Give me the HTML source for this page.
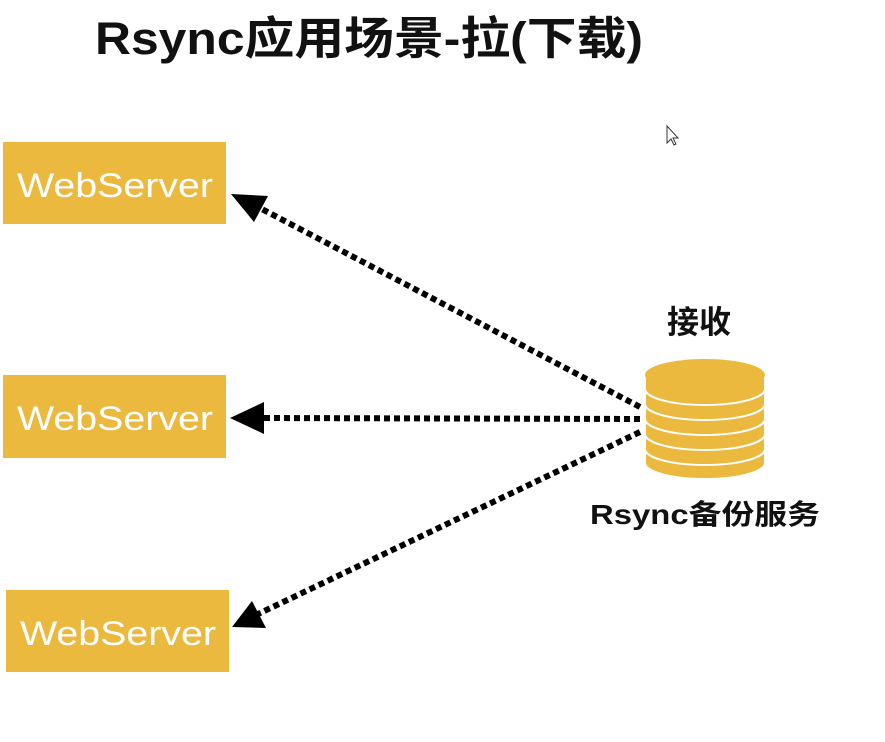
<!DOCTYPE html>
<html><head><meta charset="utf-8"><style>
html,body{margin:0;padding:0;background:#fff;width:885px;height:742px;overflow:hidden}
svg{display:block}
text{font-family:"Liberation Sans","Noto Sans CJK SC",sans-serif;font-weight:bold}
</style></head><body>
<svg width="885" height="742" viewBox="0 0 885 742" xmlns="http://www.w3.org/2000/svg">
<text x="95" y="54" font-size="45" fill="#111" textLength="548" lengthAdjust="spacingAndGlyphs">Rsync应用场景-拉(下载)</text>
<g fill="#ecb93f">
<rect x="3" y="142" width="223" height="82"/>
<rect x="3" y="375" width="223" height="83"/>
<rect x="6" y="590" width="223" height="82"/>
</g>
<g fill="#fff" font-size="34">
<text x="17" y="197" style="font-weight:normal" textLength="196" lengthAdjust="spacingAndGlyphs">WebServer</text>
<text x="17" y="430" style="font-weight:normal" textLength="196" lengthAdjust="spacingAndGlyphs">WebServer</text>
<text x="20" y="645" style="font-weight:normal" textLength="196" lengthAdjust="spacingAndGlyphs">WebServer</text>
</g>
<g stroke="#000" stroke-width="6" stroke-dasharray="6 4" fill="none">
<line x1="640" y1="407" x2="258" y2="207"/>
<line x1="640" y1="419" x2="262" y2="418"/>
<line x1="640" y1="432" x2="258" y2="614"/>
</g>
<g fill="#000">
<polygon points="231,194 268,196 254,222"/>
<polygon points="230,418 264,402 264,434"/>
<polygon points="232,627 252,601 266,628"/>
</g>
<text x="667" y="333" font-size="32" fill="#111">接收</text>
<g fill="#ecb93f" stroke="#fff" stroke-width="2">
<path d="M645,463 v0 a60,16 0 0 0 120,0 v-14 h-120z"/>
<path d="M645,449 a60,16 0 0 0 120,0 v-15 h-120z"/>
<path d="M645,434 a60,16 0 0 0 120,0 v-15 h-120z"/>
<path d="M645,419 a60,16 0 0 0 120,0 v-15 h-120z"/>
<path d="M645,404 a60,16 0 0 0 120,0 v-15 h-120z"/>
<path d="M645,389 a60,16 0 0 0 120,0 v-14 h-120z"/>
<ellipse cx="705" cy="375" rx="60" ry="16" stroke="none"/>
</g>
<text x="590" y="524" font-size="28" fill="#111" textLength="230" lengthAdjust="spacingAndGlyphs">Rsync备份服务</text>
<path d="M667,126 v17 l4,-4 l3,6 l2,-1 l-3,-6 h5 z" fill="#fff" stroke="#333" stroke-width="1"/>
</svg>
</body></html>
